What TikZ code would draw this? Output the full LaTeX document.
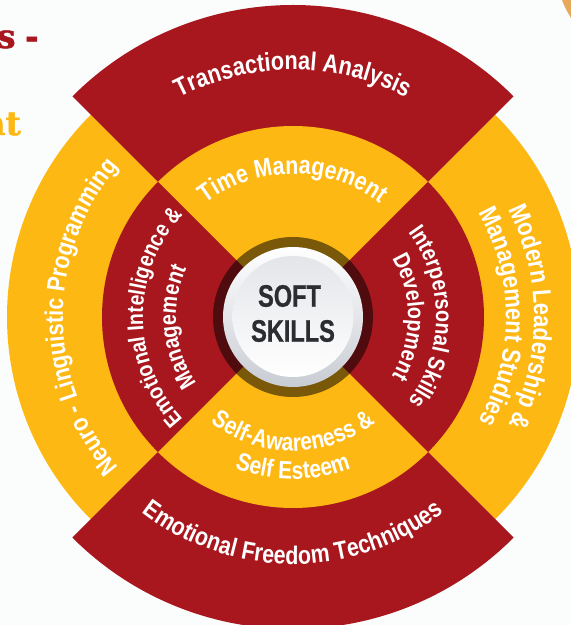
\documentclass[tikz,border=0pt]{standalone}
\usepackage{fontspec}
\setmainfont{Liberation Sans}
\newfontfamily\cond[FakeStretch=0.84]{Liberation Sans Bold}
\newfontfamily\hubf[FakeStretch=0.76,FakeBold=0.8]{Liberation Sans Bold}
\newfontfamily\slabf[FakeBold=1.4]{DejaVu Serif Bold}
\usetikzlibrary{decorations.text}
\definecolor{brickred}{HTML}{A8171E}
\definecolor{sunyellow}{HTML}{FDB813}
\definecolor{pagebg}{HTML}{FBFDFD}
\definecolor{softorange}{HTML}{E8A85A}
\definecolor{softink}{HTML}{2B2D31}
\definecolor{rimgrey}{HTML}{C8CCD3}
\definecolor{facegrey}{HTML}{E3E5E9}
\newcommand{\sectorat}[4]{\fill[#1] (hub) -- ([shift={(hub)}]#2:#4pt) arc[start angle=#2,end angle=#3,radius=#4pt] -- cycle;}
\newcommand{\bendtext}[5]{\path[decorate,decoration={text along path,text align=center,text={|\color{white}\fontsize{#4}{#4}\cond|#5}}] ([shift={(hub)}]#2:#1pt) arc[start angle=#2,end angle=#3,radius=#1pt];}
\tikzset{softlabel/.style={font=\hubf\fontsize{31}{31}\selectfont,text=softink,inner sep=0pt}}
\begin{document}
\begin{tikzpicture}[x=1pt,y=1pt]
\useasboundingbox (0,0) rectangle (571,625);
\clip (0,0) rectangle (571,625);
\fill[pagebg] (0,0) rectangle (571,625);
\coordinate (hub) at (293,308);
% fragments at the edges
\fill[softorange] (562,625) .. controls (565,617) and (568,612) .. (571,607) -- (571,625) -- cycle;
\node[anchor=base east,inner sep=0pt,text=brickred,font=\slabf\fontsize{33}{33}\selectfont] (frag1) at (39,577) {ls\kern-2pt\ -};
\node[anchor=base east,inner sep=0pt,text=sunyellow,font=\slabf\fontsize{33}{33}\selectfont] (frag2) at (21,490) {nt};
% outer ring
\sectorat{sunyellow}{135}{225}{286}
\sectorat{sunyellow}{-45}{45}{286}
\sectorat{brickred}{45}{135}{312}
\sectorat{brickred}{225}{315}{312}
% inner ring
\sectorat{sunyellow}{45}{135}{191}
\sectorat{sunyellow}{225}{315}{191}
\sectorat{brickred}{135}{225}{191}
\sectorat{brickred}{-45}{45}{191}
% hub
\fill[black,opacity=.52] (hub) circle (80pt);
\shade[top color=white,bottom color=rimgrey] (hub) circle (70pt);
\shade[top color=facegrey,bottom color=white] ([yshift=0.5pt]hub) circle (60.5pt);
\node[softlabel] (soft) at (289.5,329) {SOFT};
\node[softlabel] (skills) at (293,294) {SKILLS};
% labels
\bendtext{247}{170}{10}{25.8}{Transactional Analysis}
\bendtext{143}{170}{10}{25.5}{Time Management}
\bendtext{247}{190}{350}{25.5}{Emotional Freedom Techniques}
\bendtext{134}{190}{350}{25}{Self-Awareness {\&}}
\bendtext{162}{190}{350}{25}{Self Esteem}
\bendtext{230}{260}{100}{25.5}{Neuro - Linguistic Programming}
\bendtext{150}{260}{100}{23}{Emotional Intelligence {\&}}
\bendtext{117}{265}{105}{23.5}{Management}
\bendtext{241}{80}{-80}{26}{Modern Leadership {\&}}
\bendtext{213}{80}{-80}{26}{Management Studies}
\bendtext{143}{80}{-80}{23.4}{Interpersonal Skills}
\bendtext{115}{80}{-80}{23.4}{Development}
\end{tikzpicture}
\end{document}
